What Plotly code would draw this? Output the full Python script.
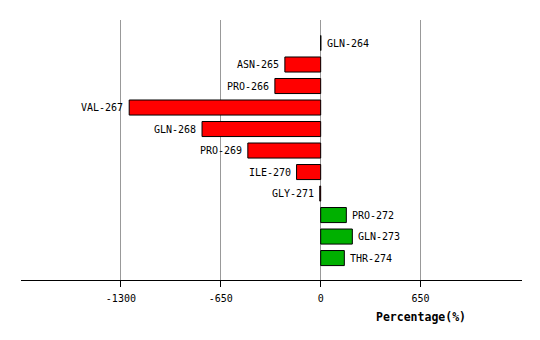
import plotly.graph_objects as go

residues = ["GLN-264", "ASN-265", "PRO-266", "VAL-267", "GLN-268", "PRO-269",
            "ILE-270", "GLY-271", "PRO-272", "GLN-273", "THR-274"]
values = [1, -233, -298, -1246, -772, -474, -157, -6, 167, 206, 154]
tick_vals = [-1300, -650, 0, 650]
tick_text = ["-1300", "-650", "0", "650"]

pos = list(range(len(residues)))
colors = ["#FF0000" if v < 0 else "#00B000" for v in values]

fig = go.Figure()
fig.add_trace(go.Bar(
    x=values, y=pos, orientation="h",
    marker=dict(color=colors, line=dict(color="black", width=1)),
    width=0.7, hoverinfo="skip",
))

for p, v, name in zip(pos, values, residues):
    neg = v < 0
    fig.add_annotation(
        x=v, y=p, text=name, showarrow=False,
        xanchor="right" if neg else "left",
        xshift=-4 if neg else 4,
        font=dict(family="DejaVu Sans Mono", size=10, color="black"),
    )

fig.update_layout(
    width=540, height=340,
    margin=dict(l=21, r=18, t=20, b=60),
    plot_bgcolor="white", paper_bgcolor="white",
    showlegend=False,
    bargap=0.3,
    xaxis=dict(
        range=[-1950, 1310],
        tickvals=tick_vals, ticktext=tick_text,
        showgrid=True, gridcolor="#999999", gridwidth=1,
        zeroline=False,
        showline=True, linecolor="black", linewidth=1,
        ticks="outside", ticklen=6, tickcolor="black",
        ticklabelstandoff=3,
        tickfont=dict(family="DejaVu Sans Mono", size=10, color="black"),
    ),
    yaxis=dict(
        range=[11.02, -1.07],
        showticklabels=False, showgrid=False, zeroline=False, showline=False,
    ),
)

fig.add_annotation(
    x=650, y=0, xref="x", yref="paper", yanchor="top", yshift=-28,
    text="<b>Percentage(%)</b>", showarrow=False,
    font=dict(family="DejaVu Sans Mono", size=11.5, color="black"),
)

fig.write_html("out.html")
